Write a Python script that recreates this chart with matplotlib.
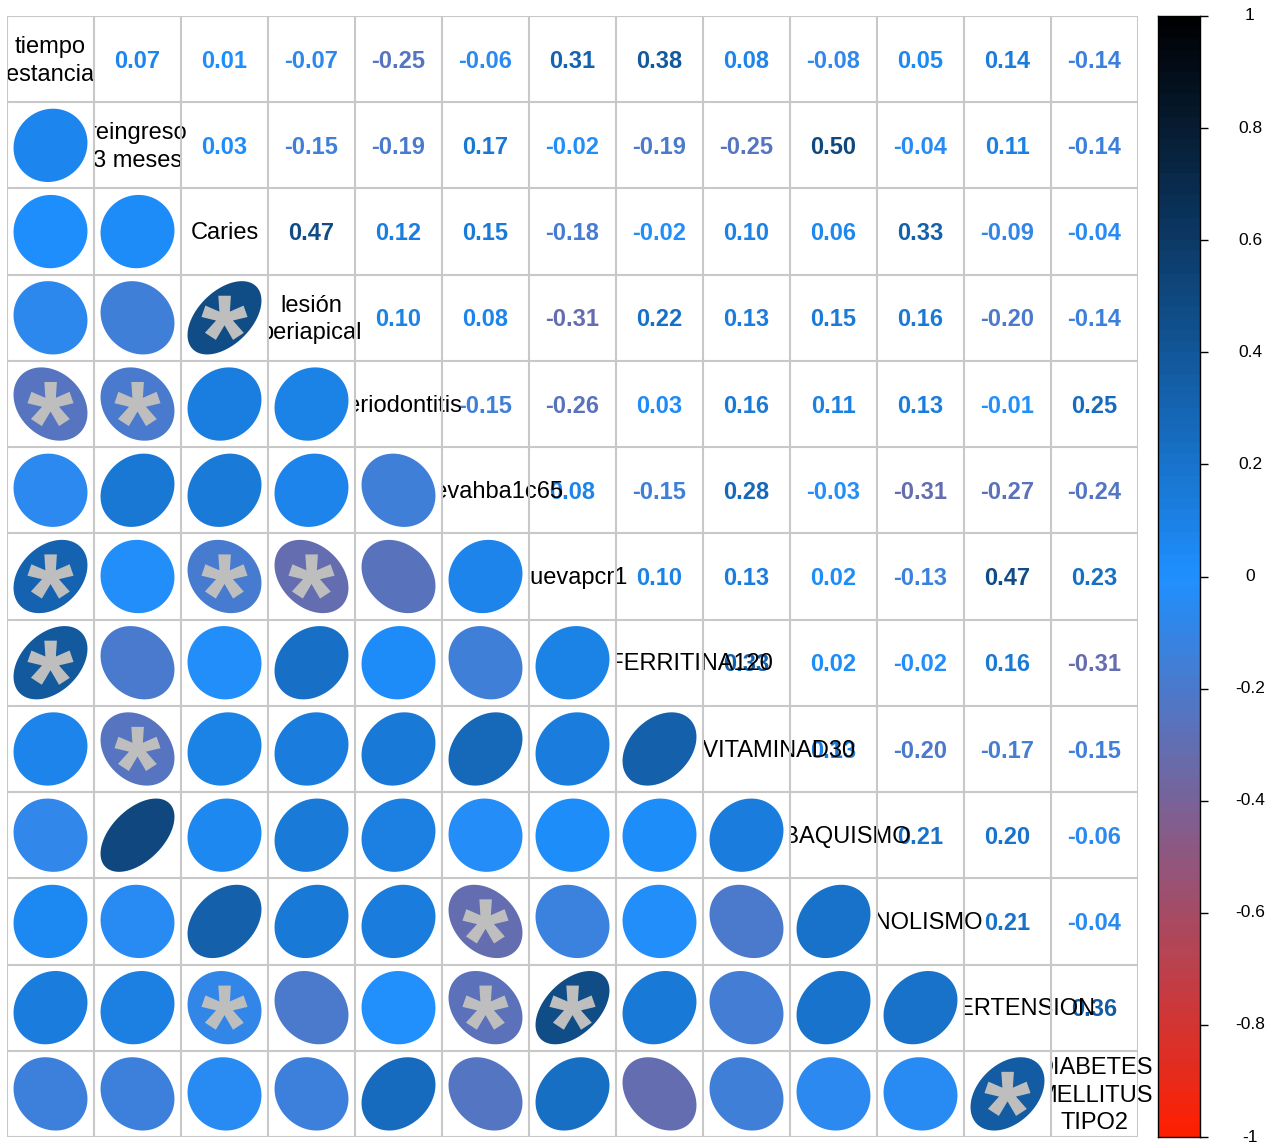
import numpy as np
import matplotlib
matplotlib.use("Agg")
import matplotlib.pyplot as plt
from matplotlib.colors import LinearSegmentedColormap, Normalize
from matplotlib.patches import Rectangle, Polygon, PathPatch
from matplotlib.textpath import TextPath
from matplotlib.font_manager import FontProperties
from matplotlib.transforms import Affine2D

plt.rcParams['font.family'] = ['Liberation Sans', 'DejaVu Sans']

# variable names (diagonal)
labels = [
    "tiempo\nestancia", "reingreso\n3 meses", "Caries", "lesión\nperiapical",
    "periodontitis", "nuevahba1c65", "nuevapcr1", "nuevaFERRITINA120",
    "nuevaVITAMINAD30", "TABAQUISMO", "ENOLISMO", "HIPERTENSION",
    "DIABETES\nMELLITUS\nTIPO2",
]

# upper-triangle correlations, row by row (columns to the right of the diagonal)
r01 = [0.07, 0.01, -0.07, -0.25, -0.06, 0.31, 0.38, 0.08, -0.08, 0.05, 0.14, -0.14]
r02 = [0.03, -0.15, -0.19, 0.17, -0.02, -0.19, -0.25, 0.50, -0.04, 0.11, -0.14]
r03 = [0.47, 0.12, 0.15, -0.18, -0.02, 0.10, 0.06, 0.33, -0.09, -0.04]
r04 = [0.10, 0.08, -0.31, 0.22, 0.13, 0.15, 0.16, -0.20, -0.14]
r05 = [-0.15, -0.26, 0.03, 0.16, 0.11, 0.13, -0.01, 0.25]
r06 = [0.08, -0.15, 0.28, -0.03, -0.31, -0.27, -0.24]
r07 = [0.10, 0.13, 0.02, -0.13, 0.47, 0.23]
r08 = [0.33, 0.02, -0.02, 0.16, -0.31]
r09 = [0.13, -0.20, -0.17, -0.15]
r10 = [0.21, 0.20, -0.06]
r11 = [0.21, -0.04]
r12 = [0.36]
upper_rows = [r01, r02, r03, r04, r05, r06, r07, r08, r09, r10, r11, r12]

# significant pairs (row, col), 1-based, lower triangle
significant = [(4, 3), (5, 1), (5, 2), (7, 1), (7, 3), (7, 4), (8, 1),
               (9, 2), (11, 6), (12, 3), (12, 6), (12, 7), (13, 12)]

cbar_ticks = [1, 0.8, 0.6, 0.4, 0.2, 0, -0.2, -0.4, -0.6, -0.8, -1]
cbar_ticklabels = ["1", "0.8", "0.6", "0.4", "0.2", "0", "-0.2", "-0.4", "-0.6", "-0.8", "-1"]

n = len(labels)
corr = np.eye(n)
for i, row in enumerate(upper_rows):
    for k, v in enumerate(row):
        j = i + 1 + k
        corr[i, j] = corr[j, i] = v

cmap = LinearSegmentedColormap.from_list("red_blue_black", ["#FF1E00", "#1E90FF", "#000000"])
norm = Normalize(-1, 1)

W, H = 1277, 1145
fig = plt.figure(figsize=(W / 100, H / 100), dpi=100)
fig.patch.set_facecolor("white")

gx0, gx1, gy0, gy1 = 7, 1138, 16, 1137
ax = fig.add_axes([gx0 / W, (H - gy1) / H, (gx1 - gx0) / W, (gy1 - gy0) / H])
ax.set_xlim(0.5, n + 0.5)
ax.set_ylim(0.5, n + 0.5)
ax.axis("off")


def cx(j):
    return j + 1


def cy(i):
    return n - i


fs_num = 17
fs_lab = 17
# upper triangle: numbers
for i in range(n):
    for j in range(i + 1, n):
        v = corr[i, j]
        ax.text(cx(j), cy(i) - 0.025, f"{v:.2f}", color=cmap(norm(v)), fontsize=fs_num,
                fontweight="bold", ha="center", va="center", zorder=2)

# diagonal labels (may spill into neighbouring cells; left edge of the grid clips)
label_clip = Rectangle((gx0 / W, 0), 1, 1, transform=fig.transFigure)
for i, lab in enumerate(labels):
    t = ax.text(cx(i), cy(i) - 0.02, lab, color="black", fontsize=fs_lab, ha="center",
                va="center", linespacing=1.33, zorder=3, clip_on=True)
    t.set_clip_path(label_clip)

# lower triangle: white cell backgrounds, ellipses
k = np.linspace(0, 2 * np.pi, 99)
for i in range(n):
    for j in range(i):
        ax.add_patch(Rectangle((cx(j) - 0.5, cy(i) - 0.5), 1, 1, facecolor="white",
                               edgecolor="none", zorder=4))
        rho = corr[i, j]
        a = np.arccos(rho)
        ex = 0.85 * np.cos(k + a / 2) / 2 + cx(j)
        ey = 0.85 * np.cos(k - a / 2) / 2 + cy(i)
        ax.add_patch(Polygon(np.column_stack([ex, ey]), closed=True,
                             facecolor=cmap(norm(rho)), edgecolor="none", zorder=6))

# grid
grid_kw = dict(color="#C8C8C8", lw=1.5, zorder=5)
for t in np.arange(0.5, n + 1, 1.0):
    ax.plot([0.5, n + 0.5], [t, t], solid_capstyle="butt", **grid_kw)
    ax.plot([t, t], [0.5, n + 0.5], solid_capstyle="butt", **grid_kw)

# significance stars
star = TextPath((0, 0), "*", size=1,
                prop=FontProperties(family="Liberation Sans", weight="bold"))
ext = star.get_extents()
sscale = 0.53 / ext.width
for (r, c) in significant:
    tr = (Affine2D().translate(-(ext.x0 + ext.x1) / 2, -(ext.y0 + ext.y1) / 2)
          .scale(sscale).translate(cx(c - 1), cy(r - 1)))
    ax.add_patch(PathPatch(tr.transform_path(star), facecolor="#BEBEBE",
                           edgecolor="none", zorder=7))

# colour legend
bx0, bx1 = 1158, 1200
cax = fig.add_axes([bx0 / W, (H - gy1) / H, (bx1 - bx0) / W, (gy1 - gy0) / H])
levels = np.linspace(-1, 1, 101)
mids = (levels[:-1] + levels[1:]) / 2
cax.pcolormesh([0, 1], levels, mids.reshape(-1, 1), cmap=cmap, norm=norm, shading="flat")
cax.set_xlim(0, 1)
cax.set_ylim(-1, 1)
cax.set_xticks([])
cax.yaxis.tick_right()
cax.set_yticks(cbar_ticks)
cax.set_yticklabels([])
cax.tick_params(axis="y", length=6, width=1, color="black", direction="out")
for s in cax.spines.values():
    s.set_linewidth(1)
    s.set_color("black")
for t, lab in zip(cbar_ticks, cbar_ticklabels):
    ypix = gy0 + (1 - t) / 2 * (gy1 - gy0)
    fig.text(1250 / W, 1 - ypix / H, lab, fontsize=12.5, ha="center", va="center")

fig.savefig("out.png", dpi=100, facecolor="white")
